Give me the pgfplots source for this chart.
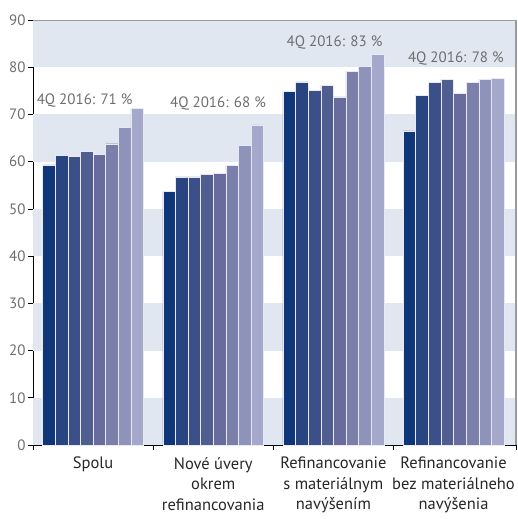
\documentclass[border=0pt]{standalone}
\usepackage{pgfplots}
\pgfplotsset{compat=1.18}
\usepackage{fontspec}
\setmainfont{PT Sans}
\definecolor{c1}{HTML}{10367A}
\definecolor{c2}{HTML}{284582}
\definecolor{c3}{HTML}{3B5088}
\definecolor{c4}{HTML}{4F5D91}
\definecolor{c5}{HTML}{676C9D}
\definecolor{c6}{HTML}{7A80AA}
\definecolor{c7}{HTML}{8E93BB}
\definecolor{c8}{HTML}{A4A8CA}
\definecolor{band}{HTML}{E1E7F1}
\definecolor{tgray}{HTML}{6D6E71}
\definecolor{lgray}{HTML}{9A9A9A}
\begin{document}
\begin{tikzpicture}
\path (-33pt,-74pt) rectangle (485pt,445pt);
\begin{axis}[
  at={(0pt,0pt)}, anchor=south west,
  width=483pt, height=425pt, scale only axis,
  xmin=-0.5, xmax=3.52, ymin=0, ymax=90,
  clip=false,
  ybar=0pt, bar width=0.105,
  axis x line*=bottom, axis y line*=left,
  axis line style={-, black, line width=0.8pt},
  tick align=outside,
  major tick length=5pt,
  tick style={black, line width=0.6pt},
  ytick={0,10,...,90},
  yticklabel style={font=\fontsize{15}{17}\selectfont, text=tgray, xshift=1pt},
  /pgf/number format/assume math mode=true,
  xtick={-0.5,0.5,1.5,2.5,3.52},
  xticklabel=\empty,
  extra x ticks={0,1,2,3},
  extra x tick labels={Spolu, {Nové úvery\\okrem\\refinancovania}, {Refinancovanie\\s materiálnym\\navýšením}, {Refinancovanie\\bez materiálneho\\navýšenia}},
  extra x tick style={major tick length=0pt},
  xticklabel style={font=\fontsize{16.5}{20.5}\selectfont, text=black!85, align=center, inner sep=0pt, yshift=-12pt},
  every axis plot/.append style={draw=white!75!c8, line width=0.4pt},
]
\foreach \y in {0,20,40,60,80} {
  \edef\tmp{\noexpand\fill[band] (axis cs:-0.5,\y) rectangle (axis cs:3.52,\y+10);}
  \tmp
}
\addplot[fill=c1] coordinates {(0,59.3) (1,53.7) (2,74.9) (3,66.5)};
\addplot[fill=c2] coordinates {(0,61.4) (1,56.8) (2,76.9) (3,74.0)};
\addplot[fill=c3] coordinates {(0,61.1) (1,56.8) (2,75.1) (3,76.8)};
\addplot[fill=c4] coordinates {(0,62.2) (1,57.3) (2,76.1) (3,77.4)};
\addplot[fill=c5] coordinates {(0,61.6) (1,57.5) (2,73.7) (3,74.4)};
\addplot[fill=c6] coordinates {(0,63.8) (1,59.2) (2,79.2) (3,76.8)};
\addplot[fill=c7] coordinates {(0,67.2) (1,63.5) (2,80.2) (3,77.5)};
\addplot[fill=c8] coordinates {(0,71.3) (1,67.8) (2,82.8) (3,77.7)};
\draw[lgray, line width=0.8pt] (axis cs:-0.5,90) -- (axis cs:3.52,90);
\draw[lgray, line width=1.3pt] (axis cs:3.52,90) -- (axis cs:3.52,0);
\tikzset{ann/.style={text=tgray, font=\fontsize{15}{16}\selectfont, inner sep=0pt}}
\node[ann] at (axis cs:-0.07,73.0) {4Q 2016: 71 \%};
\node[ann] at (axis cs:1.04,72.4) {4Q 2016: 68 \%};
\node[ann] at (axis cs:2.01,85.2) {4Q 2016: 83 \%};
\node[ann] at (axis cs:3.02,81.8) {4Q 2016: 78 \%};
\end{axis}
\end{tikzpicture}
\end{document}
